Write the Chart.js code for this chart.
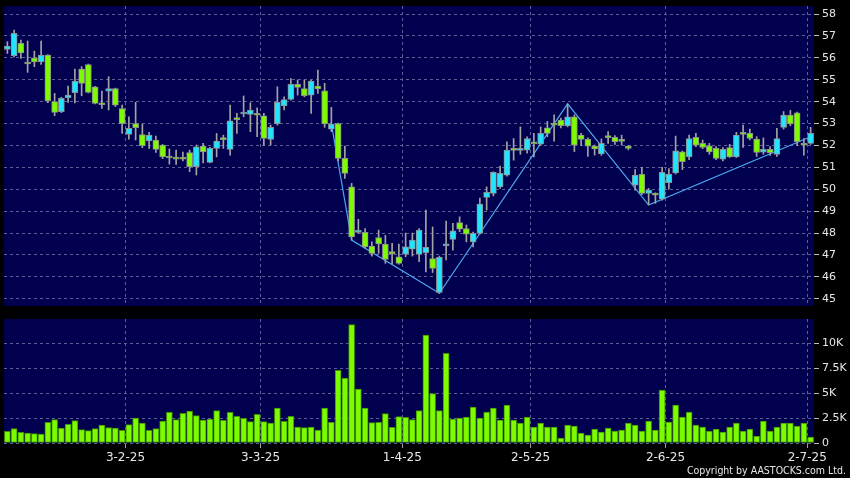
<!DOCTYPE html>
<html>
<head>
<meta charset="utf-8">
<script src="https://cdn.jsdelivr.net/npm/chart.js@4.4.1/dist/chart.umd.min.js"></script>
<style>
    html, body { margin: 0; padding: 0; background: #000; }
    #wrap { position: relative; width: 850px; height: 478px; overflow: hidden; }
    canvas { position: absolute; left: 0; }
    #price_canvas { top: 0; }
    #volume_canvas { top: 312px; }
    #copyright { position: absolute; right: 4px; top: 464px; color: #e6e6e6;
        font: 10.5px "DejaVu Sans Condensed", "DejaVu Sans", sans-serif; white-space: nowrap; }
</style>
</head>
<body>
<div id="wrap">
    <canvas id="price_canvas" width="850" height="312"></canvas>
    <canvas id="volume_canvas" width="850" height="166"></canvas>
    <div id="copyright">Copyright by AASTOCKS.com Ltd.</div>
</div>
<script>
// trading days per month (2025)
const jan_days = [3, 6, 7, 8, 9, 10, 13, 14, 15, 16, 17, 20, 21, 22, 23, 24, 27, 28];
const feb_days = [3, 4, 5, 6, 7, 10, 11, 12, 13, 14, 17, 18, 19, 20, 21, 24, 25, 26, 27, 28];
const mar_days = [3, 4, 5, 6, 7, 10, 11, 12, 13, 14, 17, 18, 19, 20, 21, 24, 25, 26, 27, 28, 31];
const apr_days = [1, 2, 3, 7, 8, 9, 10, 11, 14, 15, 16, 17, 22, 23, 24, 25, 28, 29, 30];
const may_days = [2, 6, 7, 8, 9, 12, 13, 14, 15, 16, 19, 20, 21, 22, 23, 26, 27, 28, 29, 30];
const jun_days = [2, 3, 4, 5, 6, 9, 10, 11, 12, 13, 16, 17, 18, 19, 20, 23, 24, 25, 26, 27, 30];
const jul_days = [2];

// dates shown on the time axis
const tick_labels = ['3-2-25', '3-3-25', '1-4-25', '2-5-25', '2-6-25', '2-7-25'];

const open_prices = [
    56.39, 56.10, 56.66, 55.78, 56.00, 55.82, 56.13, 54.00, 53.54, 54.18,
    54.41, 55.49, 55.70, 54.68, 53.90, 54.48, 54.60, 53.69, 52.50, 53.00,
    52.50, 52.21, 52.25, 52.02, 51.47, 51.40, 51.45, 51.68, 51.03, 51.97,
    51.23, 51.87, 52.30, 51.82, 53.20, 53.44, 53.42, 53.40, 53.36, 52.28,
    53.00, 53.81, 54.10, 54.79, 54.60, 54.30, 54.71, 54.50, 52.74, 53.00,
    51.41, 50.11, 48.03, 48.03, 47.41, 47.80, 47.50, 47.15, 46.92, 47.04,
    47.26, 47.03, 47.10, 46.84, 45.29, 47.42, 47.71, 48.48, 48.21, 47.60,
    47.99, 49.63, 49.81, 50.11, 50.65, 51.80, 51.78, 51.79, 52.12, 52.06,
    52.81, 52.97, 53.16, 52.89, 53.31, 52.47, 52.28, 51.97, 51.61, 52.38,
    52.37, 52.21, 51.97, 50.19, 50.68, 49.81, 49.75, 49.55, 50.30, 50.75,
    51.71, 51.48, 52.37, 52.10, 51.99, 51.87, 51.37, 51.91, 51.48, 52.53,
    52.55, 52.29, 51.70, 51.82, 51.59, 52.83, 53.39, 53.49, 52.03, 52.10
];
const high_prices = [
    56.74, 57.27, 56.81, 56.77, 56.31, 56.77, 56.15, 54.38, 54.20, 54.71,
    55.49, 55.60, 55.72, 54.70, 54.48, 55.14, 54.62, 53.84, 53.31, 53.97,
    52.98, 52.60, 52.43, 52.05, 51.84, 51.79, 51.70, 51.79, 52.02, 52.10,
    51.92, 52.55, 52.47, 53.84, 53.47, 54.26, 53.95, 53.72, 53.47, 52.93,
    54.68, 54.22, 55.06, 54.99, 54.99, 54.99, 55.44, 54.84, 53.74, 53.02,
    51.97, 50.27, 48.63, 48.20, 47.60, 48.14, 47.90, 47.53, 47.50, 48.00,
    48.00, 48.21, 49.05, 48.28, 46.95, 48.55, 48.44, 48.74, 48.37, 48.05,
    49.60, 50.11, 50.80, 51.06, 52.17, 52.32, 52.85, 52.40, 52.55, 52.85,
    53.10, 53.40, 53.25, 53.90, 53.40, 52.55, 52.35, 52.02, 52.30, 52.63,
    52.45, 52.47, 52.00, 50.90, 51.00, 50.04, 49.84, 51.00, 50.95, 52.43,
    51.75, 52.47, 52.55, 52.25, 52.10, 51.95, 51.90, 52.05, 52.60, 52.93,
    52.75, 52.40, 52.35, 51.95, 52.78, 53.55, 53.60, 53.52, 52.32, 52.83
];
const low_prices = [
    56.20, 56.05, 55.98, 55.34, 55.60, 55.70, 53.95, 53.36, 53.50, 53.97,
    53.94, 54.27, 54.40, 53.90, 53.69, 53.62, 53.78, 52.55, 52.29, 52.25,
    51.90, 51.87, 51.68, 51.40, 51.15, 51.14, 51.30, 50.80, 50.65, 51.20,
    51.20, 51.48, 51.87, 51.56, 52.55, 53.31, 52.63, 52.40, 52.02, 52.02,
    52.93, 53.62, 54.07, 54.30, 54.22, 53.47, 54.38, 52.83, 52.63, 51.30,
    50.50, 47.68, 47.99, 47.30, 46.95, 47.07, 46.62, 46.58, 46.58, 46.92,
    46.95, 46.69, 46.23, 46.20, 45.25, 46.77, 47.22, 48.06, 47.60, 47.37,
    47.95, 49.05, 49.70, 50.04, 50.60, 51.33, 51.60, 51.65, 51.48, 52.00,
    52.40, 52.20, 52.80, 52.85, 51.72, 52.00, 51.50, 51.56, 51.55, 52.10,
    52.05, 52.02, 51.80, 49.96, 49.75, 49.30, 49.36, 49.50, 50.00, 50.70,
    50.90, 51.35, 51.95, 51.85, 51.60, 51.35, 51.30, 51.45, 51.45, 51.91,
    52.25, 51.50, 51.60, 51.55, 51.50, 52.75, 52.90, 52.00, 51.56, 52.05
];
const close_prices = [
    56.54, 57.12, 56.23, 55.72, 55.82, 56.13, 54.03, 53.51, 54.15, 54.30,
    54.94, 54.84, 54.42, 53.92, 53.86, 54.60, 53.84, 53.00, 52.78, 52.81,
    51.99, 52.47, 51.82, 51.48, 51.43, 51.38, 51.37, 51.03, 51.94, 51.71,
    51.87, 52.20, 52.27, 53.13, 53.18, 53.50, 53.62, 53.38, 52.32, 52.83,
    53.97, 54.10, 54.79, 54.65, 54.27, 54.94, 54.58, 52.98, 52.98, 51.41,
    50.73, 47.83, 48.10, 47.37, 47.07, 47.50, 46.80, 47.05, 46.62, 47.37,
    47.68, 48.14, 47.35, 46.39, 46.89, 47.51, 48.10, 48.18, 47.95, 47.99,
    49.32, 49.86, 50.77, 50.73, 51.79, 51.78, 51.80, 52.32, 52.08, 52.55,
    52.55, 52.93, 52.90, 53.31, 52.02, 52.28, 51.97, 51.84, 52.10, 52.36,
    52.17, 52.19, 51.87, 50.65, 49.81, 49.96, 49.73, 50.77, 50.69, 51.76,
    51.26, 52.32, 52.02, 51.91, 51.71, 51.41, 51.82, 51.48, 52.47, 52.51,
    52.32, 51.68, 51.82, 51.67, 52.32, 53.39, 52.98, 52.17, 52.01, 52.55
];

// zigzag turning points (day index, price)
const zigzag_days = [48, 51, 64, 83, 95, 119];
const zigzag_prices = [53.00, 47.68, 45.25, 53.90, 49.28, 52.40];

const volumes = [
    1160, 1430, 1060, 1000, 930, 900, 2060, 2330, 1500, 1860,
    2230, 1330, 1230, 1430, 1800, 1530, 1500, 1260, 1830, 2500,
    2000, 1260, 1430, 2200, 3060, 2330, 2960, 3200, 2730, 2300,
    2400, 3230, 2260, 3060, 2660, 2460, 2130, 2860, 2130, 2000,
    3500, 2160, 2660, 1600, 1530, 1600, 1300, 3500, 2060, 7260,
    6500, 11830, 5400, 3500, 2030, 2060, 2930, 1560, 2630, 2560,
    2330, 3230, 10800, 4930, 3230, 8960, 2400, 2500, 2600, 3600,
    2500, 3100, 3500, 2300, 3800, 2300, 2000, 2600, 1600, 2000,
    1600, 1600, 500, 1800, 1700, 1000, 800, 1400, 1100, 1500,
    1200, 1300, 2000, 1800, 1200, 2200, 1300, 5300, 2100, 3800,
    2600, 3100, 1800, 1600, 1200, 1400, 1100, 1600, 2000, 1200,
    1400, 700, 2200, 1200, 1600, 2000, 2000, 1700, 2000, 600
];

const price_ticks = [45, 46, 47, 48, 49, 50, 51, 52, 53, 54, 55, 56, 57, 58];
const volume_ticks = [0, 2500, 5000, 7500, 10000];

const NAVY = '#00004e';
const GRID = '#5d5d9a';
const CYAN = '#22e4ff';
const LIME = '#7dfc00';
const TEXT = '#e6e6e6';

/**
 * Builds day labels like 3-2-25 from the monthly day lists
 * @returns labels {array}
 */
function getDayLabels() {
    let months = [jan_days, feb_days, mar_days, apr_days, may_days, jun_days, jul_days];
    let labels = [];
    months.forEach(function (days, m) {
        days.forEach(function (d) { labels.push(d + '-' + (m + 1) + '-25'); });
    });
    return labels;
}

const day_labels = getDayLabels();
const tick_index = tick_labels.map(function (t) { return day_labels.indexOf(t); });

// navy background for the plot area only
const plot_bg = {
    id: 'plot_bg',
    beforeDraw(chart) {
        let a = chart.chartArea;
        let ctx = chart.ctx;
        ctx.save();
        ctx.fillStyle = NAVY;
        ctx.fillRect(a.left, a.top, a.right - a.left, a.bottom - a.top);
        ctx.restore();
    }
};

/**
 * Returns x axis config shared by both panels.
 * Month ticks sit on the edge between the last and first trading day.
 * @param show_labels {boolean}
 * @returns axis {object}
 */
function getTimeAxis(show_labels) {
    return {
        type: 'category',
        offset: true,
        grid: {
            offset: false, color: GRID, lineWidth: 1,
            drawTicks: show_labels, tickLength: 5, tickColor: '#9a9a9a', tickBorderDash: []
        },
        border: { display: false, dash: [3, 3] },
        afterBuildTicks: function (scale) {
            scale.ticks = tick_index.map(function (v) { return { value: v - 0.5 }; });
        },
        afterFit: function (scale) {
            scale.height = show_labels ? 35 : 0;
            scale.paddingLeft = 0;
            scale.paddingRight = 0;
        },
        ticks: {
            display: show_labels,
            autoSkip: false,
            maxRotation: 0,
            padding: 3,
            color: TEXT,
            font: { family: 'DejaVu Sans', size: 12 },
            callback: function (value) { return day_labels[value + 0.5]; }
        }
    };
}

/**
 * Returns right hand value axis config
 * @param min {number}
 * @param max {number}
 * @param tick_values {array}
 * @param formatter {function}
 * @returns axis {object}
 */
function getValueAxis(min, max, tick_values, formatter) {
    return {
        position: 'right',
        min: min,
        max: max,
        grid: { color: GRID, lineWidth: 1, tickLength: 5, tickColor: '#bdbdbd', tickBorderDash: [] },
        border: { display: false, dash: [3, 3] },
        afterBuildTicks: function (scale) {
            scale.ticks = tick_values.map(function (v) { return { value: v }; });
        },
        afterFit: function (scale) {
            scale.width = 36;
            scale.paddingTop = 0;
            scale.paddingBottom = 0;
        },
        ticks: {
            padding: 3,
            color: TEXT,
            font: { family: 'DejaVu Sans', size: 11 },
            callback: formatter
        }
    };
}

let bodies = open_prices.map(function (o, i) { return [o, close_prices[i]]; });
let wicks = low_prices.map(function (l, i) { return [l, high_prices[i]]; });
let zigzag = day_labels.map(function () { return null; });
zigzag_days.forEach(function (d, i) { zigzag[d] = zigzag_prices[i]; });

function candleColor(ctx) {
    let i = ctx.dataIndex;
    return close_prices[i] >= open_prices[i] ? CYAN : LIME;
}

let price_config = {
    type: 'bar',
    data: {
        labels: day_labels,
        datasets: [{
            type: 'line',
            data: zigzag,
            borderColor: '#4ba6f0',
            borderWidth: 1.2,
            pointRadius: 0,
            spanGaps: true,
            order: 3
        }, {
            data: wicks,
            backgroundColor: '#a3a3a3',
            barThickness: 1,
            minBarLength: 1,
            grouped: false,
            order: 2
        }, {
            data: bodies,
            backgroundColor: candleColor,
            borderColor: '#8f8f8f',
            borderWidth: 1,
            borderSkipped: false,
            barThickness: 6,
            minBarLength: 2,
            grouped: false,
            order: 1
        }]
    },
    options: {
        responsive: false,
        animation: false,
        devicePixelRatio: 1,
        layout: { padding: { top: 6, bottom: 6, left: 4, right: 0 } },
        plugins: { legend: { display: false }, tooltip: { enabled: false } },
        scales: {
            x: getTimeAxis(false),
            y: getValueAxis(44.67, 58.37, price_ticks, function (v) { return String(v); })
        }
    },
    plugins: [plot_bg]
};

let volume_config = {
    type: 'bar',
    data: {
        labels: day_labels,
        datasets: [{
            data: volumes,
            backgroundColor: LIME,
            borderColor: '#3f8f00',
            borderWidth: 1,
            borderSkipped: false,
            barThickness: 6
        }]
    },
    options: {
        responsive: false,
        animation: false,
        devicePixelRatio: 1,
        layout: { padding: { top: 7, bottom: 0, left: 4, right: 0 } },
        plugins: { legend: { display: false }, tooltip: { enabled: false } },
        scales: {
            x: getTimeAxis(true),
            y: getValueAxis(0, 12400, volume_ticks, function (v) { return v === 0 ? '0' : (v / 1000) + 'K'; })
        }
    },
    plugins: [plot_bg]
};

new Chart(document.getElementById('price_canvas').getContext('2d'), price_config);
new Chart(document.getElementById('volume_canvas').getContext('2d'), volume_config);
</script>
</body>
</html>
